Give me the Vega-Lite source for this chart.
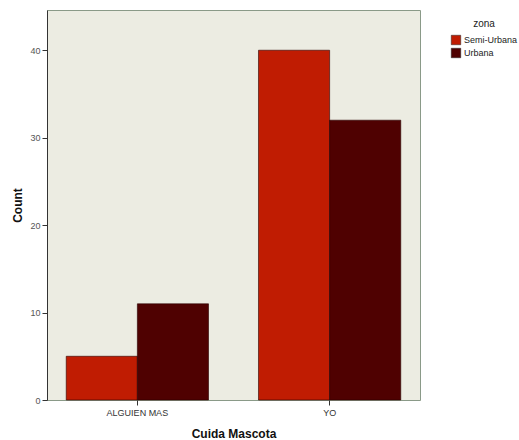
{
  "$schema": "https://vega.github.io/schema/vega-lite/v6.json",
  "width": 373,
  "height": 390,
  "autosize": "none",
  "padding": {"left": 47, "top": 10, "right": 99, "bottom": 40},
  "background": "white",
  "config": {
    "view": {"fill": "#ecece2", "stroke": "#8a9a88", "strokeWidth": 1},
    "font": "Liberation Sans"
  },
  "data": {
    "values": [
      {"cuida": "ALGUIEN MAS", "zona": "Semi-Urbana", "count": 5},
      {"cuida": "ALGUIEN MAS", "zona": "Urbana", "count": 11},
      {"cuida": "YO", "zona": "Semi-Urbana", "count": 40},
      {"cuida": "YO", "zona": "Urbana", "count": 32}
    ]
  },
  "mark": {"type": "bar", "stroke": "#2a0000", "strokeWidth": 0.6},
  "encoding": {
    "x": {
      "field": "cuida", "type": "nominal", "title": "Cuida Mascota",
      "scale": {"paddingInner": 0.26, "paddingOuter": 0.1},
      "axis": {"labelAngle": 0, "labelFontSize": 9, "labelColor": "#333", "titleFontSize": 12, "titleFontWeight": "bold", "titleColor": "#111", "tickColor": "#333", "domain": false, "ticks": true, "tickSize": 5, "labelPadding": 3, "titlePadding": 11}
    },
    "xOffset": {"field": "zona", "type": "nominal", "scale": {"paddingInner": 0, "paddingOuter": 0}},
    "y": {
      "field": "count", "type": "quantitative", "title": "Count",
      "scale": {"domain": [0, 44.6], "nice": false},
      "axis": {"values": [0, 10, 20, 30, 40], "grid": false, "labelFontSize": 9, "labelColor": "#555", "titleFontSize": 12, "titleFontWeight": "bold", "titleColor": "#111", "tickColor": "#333", "domainColor": "#333", "tickSize": 5, "labelPadding": 2, "titlePadding": 5}
    },
    "color": {
      "field": "zona", "type": "nominal", "title": "zona",
      "scale": {"domain": ["Semi-Urbana", "Urbana"], "range": ["#c01c02", "#4f0101"]},
      "legend": {"orient": "none", "legendX": 404, "legendY": 9, "titleFontSize": 10, "titleFontWeight": "normal", "titleColor": "#222", "titleAnchor": "middle", "labelFontSize": 9, "labelColor": "#222", "symbolType": "square", "symbolSize": 90, "symbolStrokeColor": "#222", "symbolStrokeWidth": 0.5, "rowPadding": 1, "labelOffset": 3, "titlePadding": 6}
    }
  }
}
